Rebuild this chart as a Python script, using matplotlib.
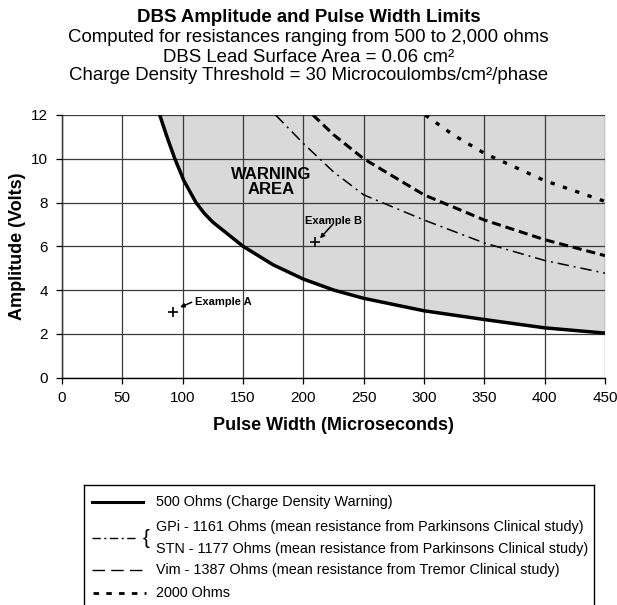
import numpy as np
import matplotlib
matplotlib.use("Agg")
import matplotlib.pyplot as plt
from matplotlib.lines import Line2D

plt.rcParams['font.family'] = ['Liberation Sans', 'DejaVu Sans']

# values
pw_500 = [81, 87, 93.5, 101, 111, 118, 125, 150, 175, 200, 225, 250, 300, 350, 400, 450]
amp_500 = [12, 11, 10, 9, 8, 7.5, 7.1, 6, 5.15, 4.5, 4.0, 3.62, 3.05, 2.65, 2.27, 2.03]

pw_gpi = [177, 200, 225, 250, 300, 350, 400, 450]
amp_gpi = [12, 10.7, 9.4, 8.35, 7.2, 6.15, 5.35, 4.77]

pw_vim = [208, 225, 250, 300, 350, 400, 450]
amp_vim = [12, 11.1, 10.0, 8.35, 7.2, 6.3, 5.57]

pw_2000 = [301, 324, 350, 400, 450]
amp_2000 = [12, 11.1, 10.25, 9.0, 8.05]

example_a = (92.3, 3.01)
example_b = (209.7, 6.21)

legend_labels = [
    "500 Ohms (Charge Density Warning)",
    "GPi - 1161 Ohms (mean resistance from Parkinsons Clinical study)",
    "STN - 1177 Ohms (mean resistance from Parkinsons Clinical study)",
    "Vim - 1387 Ohms (mean resistance from Tremor Clinical study)",
    "2000 Ohms",
]

W, H = 617, 605
fig = plt.figure(figsize=(W / 100, H / 100), dpi=100)
ax = fig.add_axes([62 / W, 1 - 377.5 / H, 543 / W, 262.5 / H])

# warning area shading
ax.fill_between(pw_500, amp_500, 12, color='#d9d9d9', zorder=1, lw=0)

ax.plot(pw_500, amp_500, color='black', lw=2.5, zorder=4)
ax.plot(pw_gpi, amp_gpi, color='black', lw=1.1, dashes=(7.5, 3.2, 1.3, 3.2), zorder=4)
ax.plot(pw_vim, amp_vim, color='black', lw=2.2, dashes=(3, 1.6), zorder=4)
ax.plot(pw_2000, amp_2000, color='black', lw=2.4, dashes=(1.3, 2.6), zorder=4)

ax.set_xlim(0, 450)
ax.set_ylim(0, 12)
ax.set_xticks(np.arange(0, 451, 50))
ax.set_yticks(np.arange(0, 13, 2))
ax.grid(True, color='#3a3a3a', lw=0.9, zorder=2)
ax.set_axisbelow(False)
for s in ['top', 'right']:
    ax.spines[s].set_visible(False)
for s in ['left', 'bottom']:
    ax.spines[s].set_linewidth(1.0)
ax.tick_params(direction='out', length=4, width=0.9, labelsize=11, pad=6)

ax.set_xlabel("Pulse Width (Microseconds)", fontsize=13, fontweight='bold', labelpad=8)
ax.set_ylabel("Amplitude (Volts)", fontsize=13, fontweight='bold', labelpad=4)

ax.text(173, 8.93, "WARNING\nAREA", ha='center', va='center', fontsize=12,
        fontweight='bold', linespacing=1.05, zorder=5)

ax.plot(*example_a, marker='+', color='black', ms=7, mew=1.2, zorder=5)
ax.plot(*example_b, marker='+', color='black', ms=7, mew=1.2, zorder=5)
ax.text(110, 3.47, "Example A", fontsize=8, fontweight='bold', va='center', ha='left', zorder=5)
ax.text(201.4, 7.15, "Example B", fontsize=8, fontweight='bold', va='center', ha='left', zorder=5)
ax.annotate("", xy=(97.8, 3.21), xytext=(107.5, 3.44),
            arrowprops=dict(arrowstyle='-|>', color='black', lw=1.1, mutation_scale=6,
                            shrinkA=0, shrinkB=0), zorder=5)
ax.annotate("", xy=(213.8, 6.36), xytext=(224.3, 7.0),
            arrowprops=dict(arrowstyle='-|>', color='black', lw=1.1, mutation_scale=6,
                            shrinkA=0, shrinkB=0), zorder=5)

# titles
fig.text(0.5, 1 - 18 / H, "DBS Amplitude and Pulse Width Limits", ha='center', va='center',
         fontsize=13.4, fontweight='bold')
fig.text(0.5, 1 - 38 / H, "Computed for resistances ranging from 500 to 2,000 ohms",
         ha='center', va='center', fontsize=13.4)
fig.text(0.5, 1 - 57 / H, "DBS Lead Surface Area = 0.06 cm²",
         ha='center', va='center', fontsize=13.4)
fig.text(0.5, 1 - 76 / H, "Charge Density Threshold = 30 Microcoulombs/cm²/phase",
         ha='center', va='center', fontsize=13.4)

# legend box (bottom edge runs off the figure)
lg = fig.add_axes([84 / W, -0.05, 510 / W, 1 - 485 / H + 0.05])
lg.set_xlim(84, 594)
lg.set_ylim(H + 0.05 * H, 485)
lg.set_xticks([])
lg.set_yticks([])
for s in lg.spines.values():
    s.set_linewidth(1.0)

rows = [502, 527, 549, 570, 593]
mid = (rows[1] + rows[2]) / 2
lg.add_line(Line2D([92, 143], [rows[0]] * 2, color='black', lw=2.2))
lg.add_line(Line2D([92, 137], [mid] * 2, color='black', lw=1.0, dashes=(6, 2.5, 1.5, 2.5)))
lg.add_line(Line2D([92, 142], [rows[3]] * 2, color='black', lw=1.0, dashes=(9, 4.5)))
lg.add_line(Line2D([93, 146], [rows[4]] * 2, color='black', lw=2.0, dashes=(2, 2.6)))
lg.text(146.5, mid, "{", fontsize=15, va='center', ha='center')
for y, lab in zip(rows, legend_labels):
    lg.text(156, y, lab, fontsize=10.4, va='center', ha='left')

fig.savefig("out.png", dpi=100)
